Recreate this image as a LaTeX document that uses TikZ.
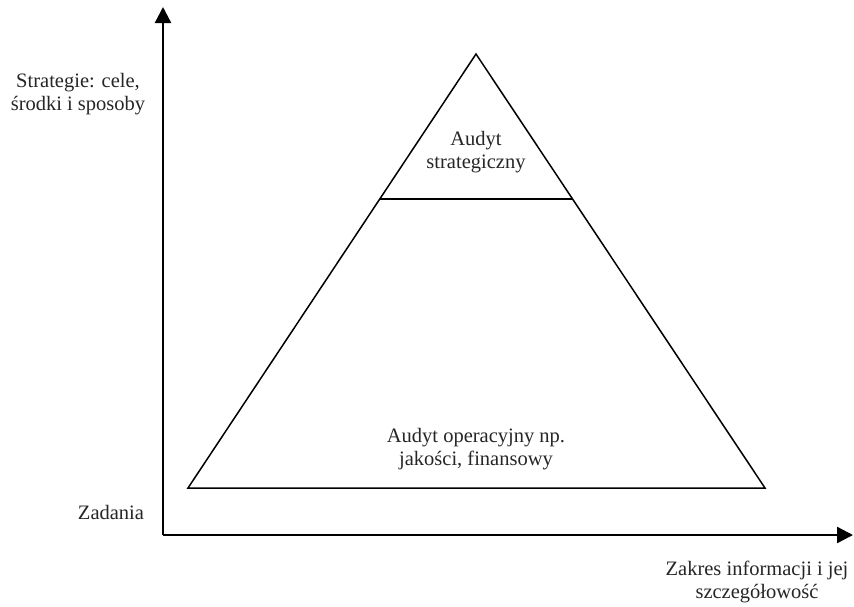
\documentclass[tikz,border=0pt]{standalone}
\usepackage{fontspec}
\setmainfont{Liberation Serif}
\usetikzlibrary{arrows.meta}
\begin{document}
\begin{tikzpicture}[x=1pt,y=-1pt,
  axis/.style={line width=2.4pt,-{Triangle[length=16pt,width=16pt]}},
  tri/.style={line width=1.5pt,line join=miter},
  lbl/.style={align=center,inner sep=0pt,text=black!85,font=\fontsize{20.5}{23}\selectfont}]
\useasboundingbox (0,0) rectangle (854,606);
% axes
\coordinate (o) at (163,535);
\coordinate (ytip) at (163,7);
\coordinate (xtip) at (853,535);
\draw[axis] (o) -- (ytip);
\draw[axis] (o) -- (xtip);
% triangle
\coordinate (apex) at (476,54);
\coordinate (bl) at (188,488);
\coordinate (br) at (765,488);
\coordinate (hl) at (380,199);
\coordinate (hr) at (572,199);
\draw[tri] (apex) -- (bl) -- (br) -- cycle;
\draw[tri] (hl) -- (hr);
% labels
\node[lbl] (strat) at (476,152) {Audyt\\strategiczny};
\node[lbl] (oper) at (476,449) {Audyt operacyjny np.\\jakości, finansowy};
\node[lbl] (ylab) at (78,94) {Strategie: cele,\\środki i sposoby};
\node[lbl] (zad) at (111,512) {Zadania};
\node[lbl] (xlab) at (757,582) {Zakres informacji i jej\\szczegółowość};
\end{tikzpicture}
\end{document}
